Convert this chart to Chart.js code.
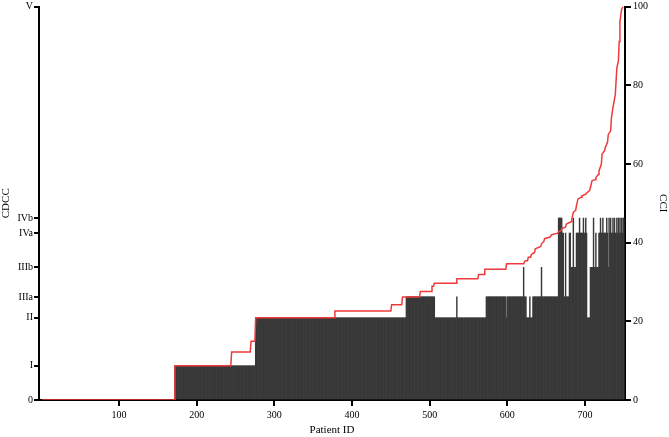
<!DOCTYPE html>
<html>
<head>
<meta charset="utf-8">
<script src="https://cdn.jsdelivr.net/npm/chart.js@4/dist/chart.umd.min.js"></script>
<style>
    html, body { margin: 0; padding: 0; background: #fff; }
</style>
</head>
<body>
<canvas id="cciChart" width="669" height="437"></canvas>
<script>
// Clavien-Dindo grade (bars) and Comprehensive Complication Index (red line) per patient

const patientCount = 750;

// Left axis: grade names placed at their CCI weight
const gradeNames = ['0', 'I', 'II', 'IIIa', 'IIIb', 'IVa', 'IVb', 'V'];
const gradeCci = [0, 8.7, 20.9, 26.2, 33.7, 42.4, 46.2, 100];

// Worst grade per patient, as runs: first patient ID of the run + grade
const runStart = [1, 172, 276, 470, 507, 535, 536, 573, 599, 600,
                  621, 622, 625, 629, 630, 633, 644, 645, 666, 671,
                  673, 675, 676, 680, 682, 685, 686, 689, 693, 694,
                  698, 699, 701, 702, 703, 707, 711, 712, 714, 715,
                  718, 720, 721, 723, 724, 728, 729, 730, 731, 732,
                  733, 734, 736, 737, 738, 739, 741, 742, 743, 744,
                  745, 746, 747, 748, 749, 750];
const runGrade = ['0', 'I', 'II', 'IIIa', 'II', 'IIIa', 'II', 'IIIa', 'II', 'IIIa',
                  'IIIb', 'IIIa', 'II', 'IIIa', 'II', 'IIIa', 'IIIb', 'IIIa', 'IVb', 'IVa',
                  'IIIa', 'IVa', 'IIIa', 'IVa', 'IIIb', 'IVb', 'IIIb', 'IVa', 'IVb', 'IVa',
                  'IVb', 'IVa', 'IVb', 'IVa', 'II', 'IIIb', 'IVb', 'IIIb', 'IVa', 'IIIb',
                  'IVa', 'IVb', 'IVa', 'IVb', 'IVa', 'IVb', 'IVa', 'IIIb', 'IVb', 'IVa',
                  'IVb', 'IVa', 'IVb', 'IVa', 'IVb', 'IVa', 'IVb', 'IVa', 'IVb', 'IVa',
                  'IVb', 'IVa', 'IVb', 'IVa', 'IVb', 'IVb'];

// CCI curve (patients sorted by CCI): corner points
const cciIds = [1, 171, 172, 244, 245, 269, 270, 275, 276, 377,
                378, 450, 451, 464, 465, 487, 488, 502, 503, 505,
                506, 534, 535, 562, 563, 570, 571, 598, 599, 621,
                623, 626, 627, 630, 631, 635, 636, 643, 644, 647,
                648, 655, 657, 665, 666, 669, 670, 675, 676, 682,
                683, 685, 688, 689, 691, 695, 696, 701, 702, 706,
                707, 709, 713, 714, 717, 718, 721, 722, 725, 726,
                729, 730, 733, 734, 736, 739, 741, 743, 744, 745,
                747, 749, 750];
const cciValues = [0, 0, 8.7, 8.7, 12.2, 12.2, 14.9, 14.9, 20.9, 20.9,
                   22.6, 22.6, 24.2, 24.2, 26.2, 26.2, 27.6, 27.6, 28.9, 28.9,
                   29.7, 29.7, 30.8, 30.8, 31.9, 31.9, 33.2, 33.2, 34.6, 34.6,
                   35.4, 35.4, 36.3, 36.3, 37.0, 37.5, 38.4, 39.0, 39.7, 40.3,
                   41.0, 41.4, 42.0, 42.4, 42.8, 43.0, 43.5, 44.0, 44.7, 45.3,
                   46.0, 47.7, 48.2, 49.4, 51.1, 51.5, 51.9, 52.3, 52.6, 53.2,
                   54.0, 55.7, 56.0, 56.5, 57.3, 58.2, 59.9, 62.5, 63.3, 64.1,
                   65.5, 67.5, 68.4, 71.7, 74.3, 77.6, 84.4, 86.1, 91.1, 96.2,
                   99.2, 100, 100];

const xTicks = [100, 200, 300, 400, 500, 600, 700];

function gradeFor(id) {
    let g = runGrade[0];
    for (let i = 0; i < runStart.length; i++) {
        if (runStart[i] <= id) g = runGrade[i];
    }
    return g;
}

const barData = [];
for (let id = 1; id <= patientCount; id++) {
    const g = gradeFor(id);
    const v = gradeCci[gradeNames.indexOf(g)];
    barData.push({ x: id, y: v > 0 ? v : null });
}

const lineData = cciIds.map((id, i) => ({ x: id, y: cciValues[i] }));

const font = { family: 'Liberation Serif', size: 10 };
const yFont = { family: 'Liberation Serif', size: 10, lineHeight: 0.9 };
const titleFont = { family: 'Liberation Serif', size: 11 };

new Chart(document.getElementById('cciChart').getContext('2d'), {
    type: 'bar',
    data: {
        datasets: [{
            type: 'line',
            label: 'CCI',
            data: lineData,
            borderColor: '#ee3a3a',
            borderWidth: 1.5,
            pointRadius: 0,
            tension: 0,
            yAxisID: 'y2',
            order: 0
        }, {
            type: 'bar',
            label: 'CDCC',
            data: barData,
            backgroundColor: '#383838',
            borderWidth: 0,
            barPercentage: 1,
            categoryPercentage: 1,
            yAxisID: 'y',
            order: 1
        }]
    },
    options: {
        responsive: false,
        animation: false,
        layout: { padding: { top: 0, left: 0, right: 0, bottom: 0 } },
        plugins: {
            legend: { display: false },
            tooltip: { enabled: false }
        },
        scales: {
            x: {
                type: 'linear',
                min: -3,
                max: 751.5,
                offset: false,
                grid: { offset: false, drawOnChartArea: false, color: '#000', lineWidth: 2, tickLength: 6 },
                border: { color: '#000', width: 2 },
                ticks: { font: font, color: '#000', padding: 3, maxRotation: 0 },
                afterBuildTicks: function(scale) {
                    scale.ticks = xTicks.map(v => ({ value: v }));
                },
                afterFit: function(scale) { scale.height = 37; },
                title: { display: true, text: 'Patient ID', font: titleFont, color: '#000', padding: { top: 0, bottom: 0 } }
            },
            y: {
                position: 'left',
                min: 0,
                max: 100,
                grid: { drawOnChartArea: false, color: '#000', lineWidth: 2, tickLength: 5 },
                border: { color: '#000', width: 2 },
                ticks: {
                    font: yFont,
                    color: '#000',
                    padding: 1,
                    autoSkip: false,
                    callback: function(value, index) {
                        return gradeNames[index];
                    }
                },
                afterBuildTicks: function(scale) {
                    scale.ticks = gradeCci.map(v => ({ value: v }));
                },
                afterFit: function(scale) { scale.width = 39; },
                title: { display: true, text: 'CDCC', font: titleFont, color: '#000', padding: { top: 0, bottom: 0 } }
            },
            y2: {
                position: 'right',
                min: 0,
                max: 100,
                grid: { drawOnChartArea: false, color: '#000', lineWidth: 2, tickLength: 6 },
                border: { color: '#000', width: 2 },
                ticks: { font: yFont, color: '#000', padding: 2, stepSize: 20 },
                afterFit: function(scale) { scale.width = 44; },
                title: { display: true, text: 'CCI', font: titleFont, color: '#000', padding: { top: 0, bottom: 0 } }
            }
        }
    }
});
</script>
</body>
</html>
